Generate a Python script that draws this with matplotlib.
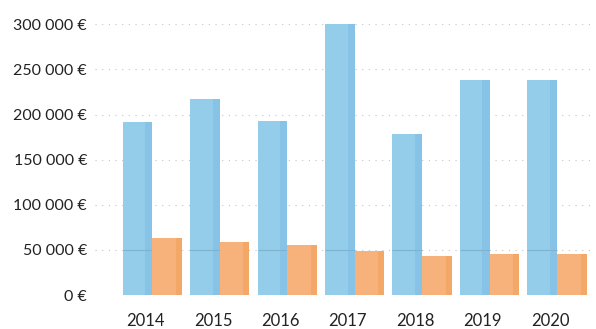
import numpy as np
import matplotlib.pyplot as plt
from matplotlib.ticker import FuncFormatter

# Datos
years = ["2014", "2015", "2016", "2017", "2018", "2019", "2020"]
blue_vals = [192000, 217000, 193000, 300000, 179000, 238000, 238000]
orange_vals = [63000, 59000, 55000, 49000, 43000, 46000, 46000]
y_ticks = [0, 50000, 100000, 150000, 200000, 250000, 300000]

plt.rcParams['font.family'] = ['Lato', 'DejaVu Sans']

fig = plt.figure(figsize=(5.96, 3.29), dpi=100)
ax = fig.add_axes([0.16, 0.103, 0.83, 0.897])

x = np.arange(len(years))
w = 0.44

blue = "#93cdea"
orange = "#f7b27c"

# rejilla tenue punteada (como en el escaneo)
for t in y_ticks:
    ax.axhline(t, color="#c4c4c4", lw=0.8, ls=(0, (1, 5)), zorder=0)

ax.bar(x - w / 2, blue_vals, width=w, color=blue, zorder=2)
# borde derecho algo más oscuro para el efecto 3D
ax.bar(x - w / 2 + w * 0.38, blue_vals, width=w * 0.24, color="#86c3e6", zorder=2)
ax.hlines([50000] * len(x), x - w, x, color="#7fb2cf", lw=0.8, zorder=3)
ax.bar(x + w / 2, orange_vals, width=w, color=orange, zorder=4)
ax.bar(x + w / 2 + w * 0.4, orange_vals, width=w * 0.2, color="#f3a868", zorder=4)


def euros(v, p):
    return f"{int(v):,} €".replace(",", " ")


ax.set_xlim(-0.844, 6.49)
ax.set_ylim(0, 327000)
ax.set_yticks(y_ticks)
ax.yaxis.set_major_formatter(FuncFormatter(euros))
ax.set_xticks(x - 0.1)
ax.set_xticklabels(years)
ax.tick_params(axis="both", length=0, labelsize=12, colors="#222222")
ax.tick_params(axis="y", pad=6, labelsize=11.5)
ax.tick_params(axis="x", pad=13)
for s in ax.spines.values():
    s.set_visible(False)

plt.savefig("out.png", dpi=100)
plt.close()
